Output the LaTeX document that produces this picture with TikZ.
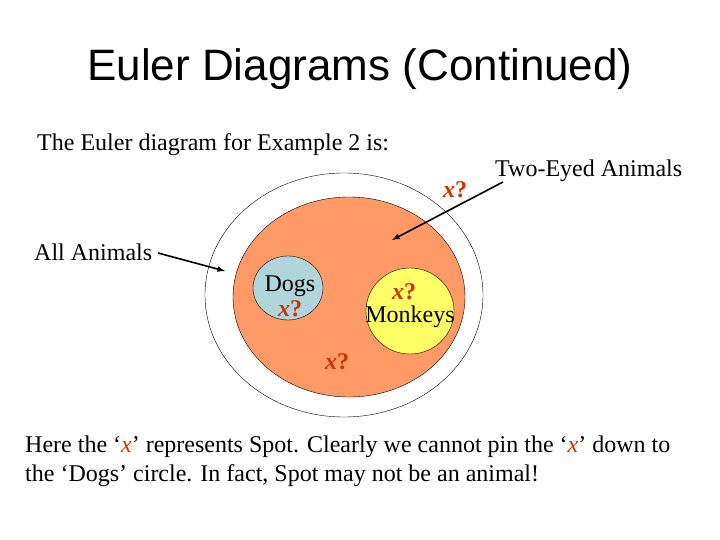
\documentclass[tikz,border=0pt]{standalone}
\usepackage{fontspec}
\setmainfont{Liberation Serif}
\newfontfamily\titlefont{Liberation Sans}
\definecolor{orangefill}{RGB}{255,153,102}
\definecolor{bluefill}{RGB}{176,214,220}
\definecolor{yellowfill}{RGB}{255,255,102}
\definecolor{xred}{RGB}{204,51,0}
\newcommand{\xq}{{\bfseries\itshape x}{\bfseries ?}}
\begin{document}
\begin{tikzpicture}[x=1pt,y=-1pt,
  body/.style={font=\fontsize{24}{28}\selectfont, inner sep=0pt},
  xmark/.style={font=\fontsize{24}{28}\selectfont, text=xred, inner sep=0pt},
  arr/.style={-latex, line width=1.6pt}]
\useasboundingbox[fill=white] (0,0) rectangle (720,540);
\node[font=\titlefont\fontsize{44}{50}\selectfont, inner sep=0pt] (title) at (360,69) {Euler Diagrams (Continued)};
\node[body, anchor=base west] (intro) at (37,151) {The Euler diagram for Example 2 is:};
% sets
\draw[thin] (344,295) ellipse [x radius=139, y radius=122];
\coordinate (allc) at (344,295);
\draw[fill=orangefill] (349,297) ellipse [x radius=116, y radius=100];
\draw[fill=bluefill] (288,288) ellipse [x radius=35, y radius=32];
\draw[fill=yellowfill] (410,311) ellipse [x radius=44, y radius=43];
% labels
\node[body, anchor=base west] (two) at (495,177) {Two-Eyed Animals};
\node[body, anchor=base west] (all) at (34,260) {All Animals};
\node[body, anchor=base] (dogs) at (290,291) {Dogs};
\node[body] (monk) at (410,317) {Monkeys};
\node[xmark, anchor=base] (x1) at (455,197) {\xq};
\node[xmark, anchor=base] (x2) at (290,316) {\xq};
\node[xmark, anchor=base] (x3) at (404,299) {\xq};
\node[xmark, anchor=base] (x4) at (337,369) {\xq};
% arrows
\coordinate (twoS) at (503,182);
\coordinate (twoE) at (392,240);
\coordinate (allS) at (158,253);
\coordinate (allE) at (225,271);
\draw[arr] (twoS) -- (twoE);
\draw[arr] (allS) -- (allE);
% bottom text
\node[body, anchor=base west] (l1) at (25,452) {Here the `{\itshape\color{xred}x}' represents Spot. Clearly we cannot pin the `{\itshape\color{xred}x}' down to};
\node[body, anchor=base west] (l2) at (25,481) {the `Dogs' circle. In fact, Spot may not be an animal!};
\end{tikzpicture}
\end{document}
